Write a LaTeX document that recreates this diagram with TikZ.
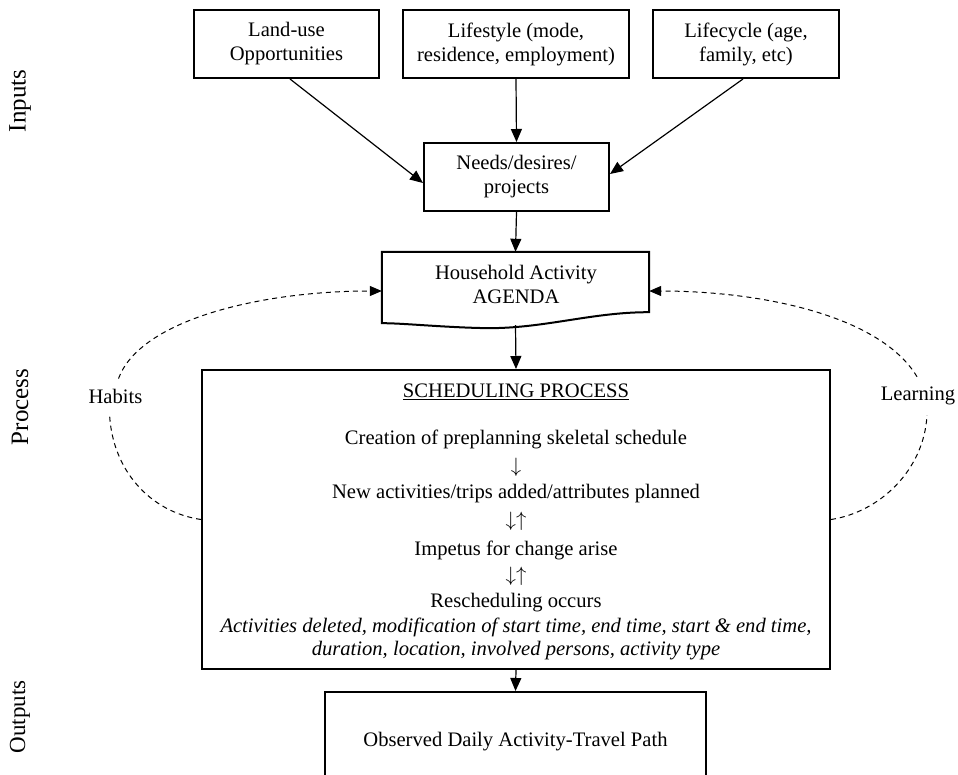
\documentclass[tikz,border=0pt]{standalone}
\usepackage{fontspec}
\setmainfont{Liberation Serif}
\usetikzlibrary{arrows.meta}
\begin{document}
\begin{tikzpicture}[x=1pt,y=-1pt,
  every node/.style={font=\fontsize{20.6}{24}\selectfont},
  box/.style={draw,line width=2pt,align=center,inner sep=0pt},
  arr/.style={line width=1.2pt,-{Triangle[length=13pt,width=11pt]}},
  dsh/.style={line width=1pt,dash pattern=on 5pt off 4pt},
  side/.style={rotate=90,font=\fontsize{25}{28}\selectfont},
  lbl/.style={inner xsep=0pt,inner ysep=10pt},
  ln/.style={inner sep=0pt},
  arw/.style={inner sep=0pt,font=\fontsize{21}{22}\selectfont}]
\clip (0,0) rectangle (958,774);
\fill[white] (0,0) rectangle (958,774);
% side labels
\node[side] (inp) at (20,101) {Inputs};
\node[side] (proc) at (20,407) {Process};
\node[side,font=\fontsize{23}{28}\selectfont] (outp) at (20,717) {Outputs};
% top boxes
\node[box,minimum width=185pt,minimum height=68pt] (land) at (286.5,44) {Land-use\\Opportunities};
\node[box,minimum width=226pt,minimum height=68pt] (style) at (516,44) {Lifestyle (mode,\\residence, employment)};
\node[box,minimum width=186pt,minimum height=68pt] (cycle) at (746,44) {Lifecycle (age,\\family, etc)};
\node[box,minimum width=185pt,minimum height=68pt] (needs) at (516.5,177) {Needs/desires/\\projects};
% agenda (document shape)
\node[inner sep=0pt,minimum width=267pt,minimum height=76pt] (agenda) at (515.5,290) {};
\draw[line width=2pt] (agenda.north west) -- (agenda.north east) -- ([yshift=16pt]agenda.south east)
  .. controls (590,312) and (540,330) .. (480,328)
  .. controls (440,327) and (400,323) .. ([yshift=5pt]agenda.south west) -- cycle;
\node[align=center,inner sep=0pt] (agtext) at (516,284) {Household Activity\\AGENDA};
% scheduling box
\node[box,minimum width=628pt,minimum height=299pt] (sched) at (516,519.5) {};
\node[ln] (t1) at (516,392) {\underline{SCHEDULING PROCESS}};
\node[ln] (t2) at (516,439) {Creation of preplanning skeletal schedule};
\node[arw] (t3) at (516,467) {$\downarrow$};
\node[ln] (t4) at (516,494) {New activities/trips added/attributes planned};
\node[arw] (t5) at (516,521) {$\downarrow\uparrow$};
\node[ln] (t6) at (516,550) {Impetus for change arise};
\node[arw] (t7) at (516,576) {$\downarrow\uparrow$};
\node[ln] (t8) at (516,603) {Rescheduling occurs};
\node[ln] (t9) at (516,627) {\itshape Activities deleted, modification of start time, end time, start \& end time,};
\node[ln] (t10) at (516,651) {\itshape duration, location, involved persons, activity type};
% output box
\node[box,minimum width=381pt,minimum height=100pt] (out) at (515.5,742) {Observed Daily Activity-Travel Path};
% side feedback labels
\node[lbl] (habits) at (115.5,396) {Habits};
\node[lbl] (learn) at (918,396) {Learning};
% arrows
\draw[arr] ([xshift=3.5pt]land.south) -- ([yshift=-6pt]needs.west);
\draw[arr] (style.south) -- (needs.north);
\draw[arr] ([xshift=-3pt]cycle.south) -- ([yshift=3pt]needs.east);
\draw[arr] (needs.south) -- (agenda.north);
\draw[arr] ([yshift=3pt]agenda.south) -- (sched.north);
\draw[arr] (sched.south) -- (out.north);
% dashed feedback loops
\draw[dsh] (sched.west) .. controls (150,512) and (112,470) .. ([xshift=-6pt]habits.south);
\draw[dsh,-{Triangle[length=12pt,width=10pt]}] ([xshift=3pt]habits.north) .. controls (140,320) and (260,291) .. ([yshift=-1pt]agenda.west);
\draw[dsh] (sched.east) .. controls (880,512) and (924,470) .. ([xshift=9pt]learn.south);
\draw[dsh,-{Triangle[length=12pt,width=10pt]}] ([xshift=-1pt]learn.north) .. controls (880,315) and (760,291) .. ([yshift=-1pt]agenda.east);
\end{tikzpicture}
\end{document}
